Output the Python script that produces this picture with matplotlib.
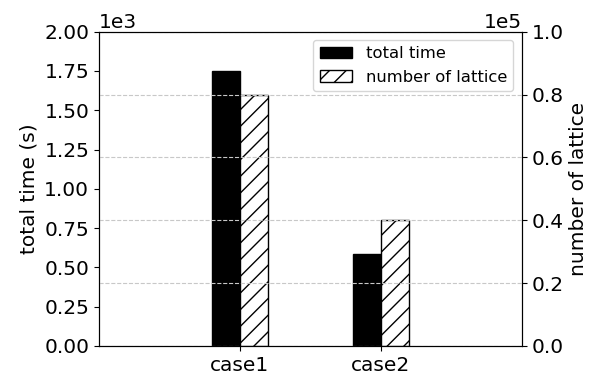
import matplotlib
matplotlib.use("Agg")
import matplotlib.pyplot as plt
import numpy as np

categories = ["case1", "case2"]
total_time = [1750, 583]
num_lattice = [80000, 40000]

fig = plt.figure(figsize=(5.91, 3.74), dpi=100)
ax1 = fig.add_axes([0.1675, 0.0749, 0.8827 - 0.1675, 0.9152 - 0.0749])
ax2 = ax1.twinx()

x = np.arange(1, len(categories) + 1)
w = 0.2
b1 = ax1.bar(x - w / 2, total_time, w, color="black", edgecolor="black", label="total time")
b2 = ax2.bar(x + w / 2, num_lattice, w, color="white", edgecolor="black", hatch="//", label="number of lattice")

ax1.set_xlim(0, 3)
ax1.set_xticks(x)
ax1.set_xticklabels(categories)
ax1.set_ylim(0, 2000)
ax2.set_ylim(0, 100000)
ax1.set_yticks(np.arange(0, 2001, 250))
ax2.set_yticks(np.arange(0, 100001, 20000))
ax1.ticklabel_format(axis="y", style="sci", scilimits=(0, 0))
ax2.ticklabel_format(axis="y", style="sci", scilimits=(0, 0))

fs = 14.5
for ax in (ax1, ax2):
    ax.tick_params(labelsize=fs)
    ax.yaxis.get_offset_text().set_fontsize(fs)
ax1.tick_params(axis="x", labelsize=fs)
ax1.set_ylabel("total time (s)", fontsize=fs)
ax2.set_ylabel("number of lattice", fontsize=fs)

ax2.grid(axis="y", linestyle="--", color="#c8c8c8", linewidth=0.8)

ax2.legend([b1, b2], ["total time", "number of lattice"], loc="upper right", fontsize=11.8)

fig.savefig("out.png", dpi=100)
